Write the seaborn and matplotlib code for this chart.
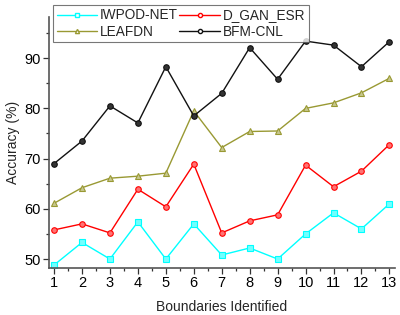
"""Accuracy vs. boundaries identified for four models."""

import pandas as pd
import matplotlib.pyplot as plt
import matplotlib.colors as mcolors
from matplotlib.ticker import MultipleLocator
import seaborn as sns

boundaries = list(range(1, 14))
iwpod_net = [48.8, 53.3, 50.0, 57.4, 50.0, 57.0, 50.8, 52.2, 50.0, 55.0, 59.2, 56.0, 61.0]
d_gan_esr = [55.8, 57.0, 55.2, 63.9, 60.4, 68.9, 55.2, 57.6, 58.8, 68.7, 64.4, 67.5, 72.8]
leafdn = [61.1, 64.2, 66.1, 66.5, 67.1, 79.5, 72.2, 75.4, 75.5, 80.0, 81.1, 83.1, 86.0]
bfm_cnl = [69.0, 73.5, 80.5, 77.1, 88.3, 78.5, 83.0, 92.1, 85.8, 93.4, 92.6, 88.3, 93.3]

models = ["IWPOD-NET", "D_GAN_ESR", "LEAFDN", "BFM-CNL"]
series = [iwpod_net, d_gan_esr, leafdn, bfm_cnl]
colors = ["#00ffff", "#ff0000", "#999933", "#111111"]
markers = ["s", "o", "^", "o"]


def main() -> None:
    sns.set_theme(style="ticks")
    plt.rcParams["font.family"] = ["Liberation Sans", "DejaVu Sans"]

    rows = []
    for name, vals in zip(models, series):
        for b, v in zip(boundaries, vals):
            rows.append({"Boundaries": b, "Accuracy": v, "Model": name})
    data = pd.DataFrame(rows)

    fig = plt.figure(figsize=(4.0, 3.15), dpi=100)
    ax = fig.add_axes([0.1225, 0.149, 0.865, 0.797])

    sns.lineplot(data=data, x="Boundaries", y="Accuracy", hue="Model",
                 style="Model", hue_order=models, palette=colors,
                 markers=dict(zip(models, markers)), dashes=False,
                 markersize=4, linewidth=1.0, ax=ax, legend=False)

    # lighter marker faces like the original
    for line, c in zip(ax.get_lines(), colors):
        face = tuple(0.55 * a + 0.45 for a in mcolors.to_rgb(c)) if c != "#111111" else (0.2, 0.2, 0.2)
        line.set_markerfacecolor(face)
        line.set_markeredgecolor(c)
        line.set_markeredgewidth(0.8)

    ax.set_xlim(0.82, 13.2)
    ax.set_ylim(48.2, 98.2)
    ax.xaxis.set_major_locator(MultipleLocator(1))
    ax.xaxis.set_minor_locator(MultipleLocator(0.5))
    ax.yaxis.set_major_locator(MultipleLocator(10))
    ax.yaxis.set_minor_locator(MultipleLocator(5))
    ax.tick_params(which="major", direction="out", length=4, width=0.9,
                   labelsize=10.5, colors="#333333", labelcolor="black", pad=2)
    ax.tick_params(which="minor", direction="out", length=2, width=0.9, colors="#333333")
    for side in ["top", "right"]:
        ax.spines[side].set_visible(False)
    for side in ["left", "bottom"]:
        ax.spines[side].set_color("#555555")
        ax.spines[side].set_linewidth(1.2)

    ax.set_xlabel("Boundaries Identified", fontsize=10, labelpad=7)
    ax.set_ylabel("Accuracy (%)", fontsize=10, labelpad=3)

    handles = [plt.Line2D([0], [0], color=c, marker=m, markersize=3,
                          markerfacecolor="white", markeredgecolor=c, lw=1.0)
               for c, m in zip(colors, markers)]
    # matplotlib fills legend columns first, so reorder to get row-wise layout
    order = [0, 2, 1, 3]
    leg = ax.legend([handles[i] for i in order], [models[i] for i in order],
                    ncol=2, loc="upper left", bbox_to_anchor=(0.012, 1.048),
                    fontsize=9.8, frameon=True, fancybox=False,
                    edgecolor="#555555", handlelength=3.0, handletextpad=0.2,
                    columnspacing=0.1, borderpad=0.25, labelspacing=0.2,
                    borderaxespad=0.0)
    leg.get_frame().set_linewidth(0.8)

    fig.savefig("out.png", dpi=100)
    plt.close(fig)


if __name__ == "__main__":
    main()
